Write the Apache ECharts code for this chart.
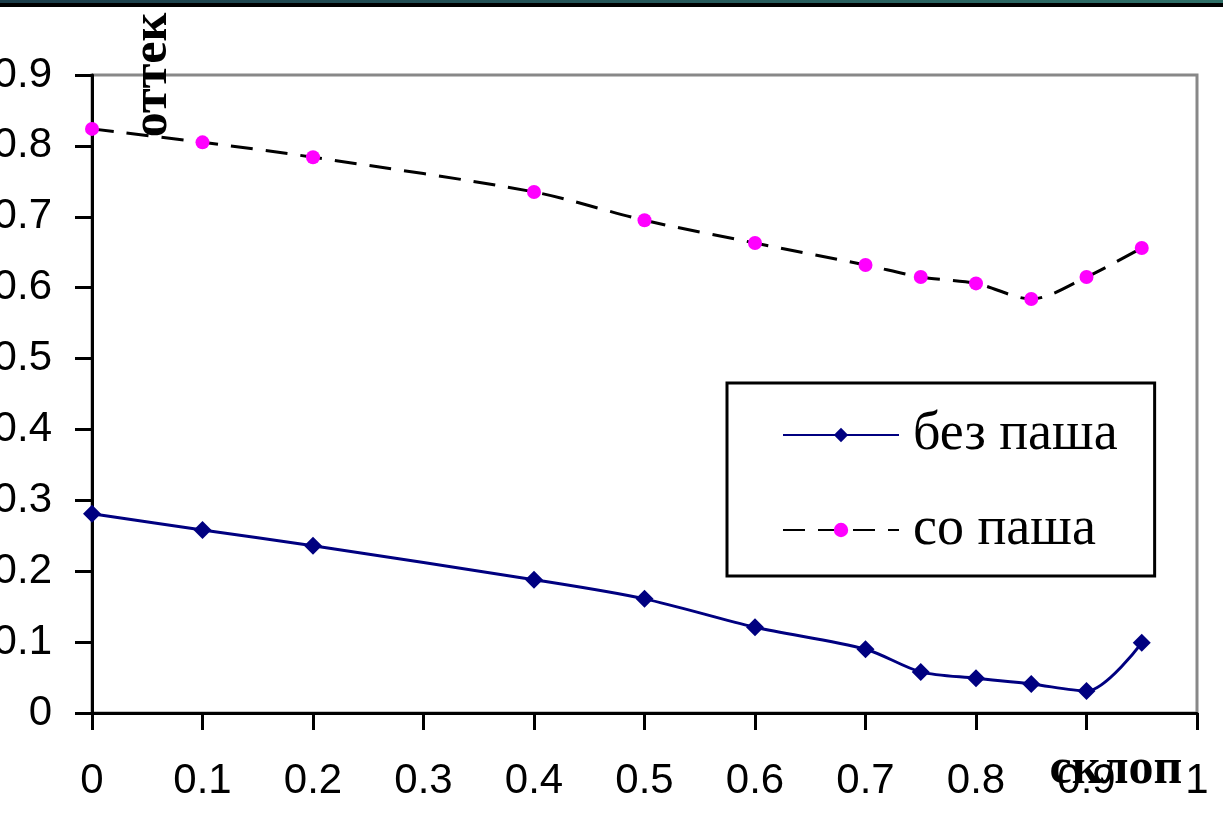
<!DOCTYPE html>
<html>
<head>
<meta charset="utf-8">
<script src="https://cdn.jsdelivr.net/npm/echarts@6/dist/echarts.min.js"></script>
<style>
  html, body { margin: 0; padding: 0; background: #ffffff; }
  #grafico { width: 1223px; height: 818px; }
</style>
</head>
<body>
<div id="grafico"></div>
<script>
// Datos
const xValores = [0, 0.1, 0.2, 0.4, 0.5, 0.6, 0.7, 0.75, 0.8, 0.85, 0.9, 0.95];
const bezPasha = [0.281, 0.258, 0.236, 0.188, 0.161, 0.121, 0.090, 0.058, 0.049, 0.041, 0.031, 0.099];
const soPasha = [0.824, 0.805, 0.784, 0.735, 0.695, 0.663, 0.632, 0.615, 0.606, 0.584, 0.615, 0.656];
const nombresSeries = ['без паша', 'со паша'];
const nombreEjeY = 'оттек';
const nombreEjeX = 'склоп';

// PROCESAMIENTO
function pares(xs, ys) {
    return xs.map((x, i) => [x, ys[i]]);
}

const fuenteNumeros = '"Liberation Sans", Arial, sans-serif';
const fuenteTexto = '"Liberation Serif", "Times New Roman", serif';

function crearGrafico() {
    return {
        animation: false,
        backgroundColor: '#ffffff',
        grid: {
            left: 92, right: 26, top: 75, bottom: 105,
            outerBoundsMode: 'none',
            containLabel: false,
            show: true,
            borderColor: '#888888',
            borderWidth: 3
        },
        graphic: [
            {
                type: 'rect', left: 0, top: 0, silent: true,
                shape: { width: 1223, height: 3 },
                style: {
                    fill: new echarts.graphic.LinearGradient(0, 0, 1, 0, [
                        { offset: 0, color: '#1c3d4a' },
                        { offset: 1, color: '#2f7068' }
                    ])
                }
            },
            {
                type: 'rect', left: 0, top: 3, silent: true,
                shape: { width: 1223, height: 4 },
                style: { fill: '#000000' }
            },
            {
                // nombre del eje Y, vertical
                type: 'text', x: 153, y: 75, rotation: Math.PI / 2, silent: true,
                style: {
                    text: nombreEjeY, fill: '#000000',
                    font: 'bold 50px ' + fuenteTexto,
                    align: 'center', verticalAlign: 'middle'
                }
            },
            {
                // nombre del eje X
                type: 'text', x: 1116, y: 770, silent: true,
                style: {
                    text: nombreEjeX, fill: '#000000',
                    font: 'bold 50px ' + fuenteTexto,
                    align: 'center', verticalAlign: 'middle'
                }
            }
        ],
        legend: {
            orient: 'vertical',
            left: 727,
            top: 383,
            data: nombresSeries,
            backgroundColor: '#ffffff',
            borderColor: '#000000',
            borderWidth: 3,
            borderRadius: 0,
            padding: [25, 37, 19, 55],
            itemWidth: 116,
            itemHeight: 18,
            itemGap: 41,
            textStyle: {
                fontFamily: fuenteTexto,
                fontSize: 54,
                lineHeight: 54,
                color: '#000000',
                padding: [0, 0, 0, 9]
            }
        },
        xAxis: {
            type: 'value',
            min: 0, max: 1, interval: 0.1,
            axisLine: { show: true, onZero: false, lineStyle: { color: '#000000', width: 3 } },
            axisTick: { show: true, length: 17, lineStyle: { color: '#000000', width: 3 } },
            axisLabel: { margin: 47, color: '#000000', fontFamily: fuenteNumeros, fontSize: 42 },
            splitLine: { show: false }
        },
        yAxis: {
            type: 'value',
            min: 0, max: 0.9, interval: 0.1,
            axisLine: { show: true, lineStyle: { color: '#000000', width: 3 } },
            axisTick: { show: true, length: 17, lineStyle: { color: '#000000', width: 3 } },
            axisLabel: { margin: 40, color: '#000000', fontFamily: fuenteNumeros, fontSize: 42 },
            splitLine: { show: false }
        },
        series: [
            {
                name: nombresSeries[0],
                type: 'line',
                smooth: 0.3,
                data: pares(xValores, bezPasha),
                symbol: 'diamond',
                symbolSize: 18,
                lineStyle: { color: '#000080', width: 3 },
                itemStyle: { color: '#000080' }
            },
            {
                name: nombresSeries[1],
                type: 'line',
                smooth: 0.3,
                data: pares(xValores, soPasha),
                symbol: 'circle',
                symbolSize: 14,
                lineStyle: { color: '#000000', width: 3, type: [22, 13] },
                itemStyle: { color: '#ff00ff' }
            }
        ]
    };
}

function iniciar() {
    const chartDom = document.getElementById('grafico');
    const myChart = echarts.init(chartDom, null, { renderer: 'canvas' });
    myChart.setOption(crearGrafico());
}

iniciar();
</script>
</body>
</html>
